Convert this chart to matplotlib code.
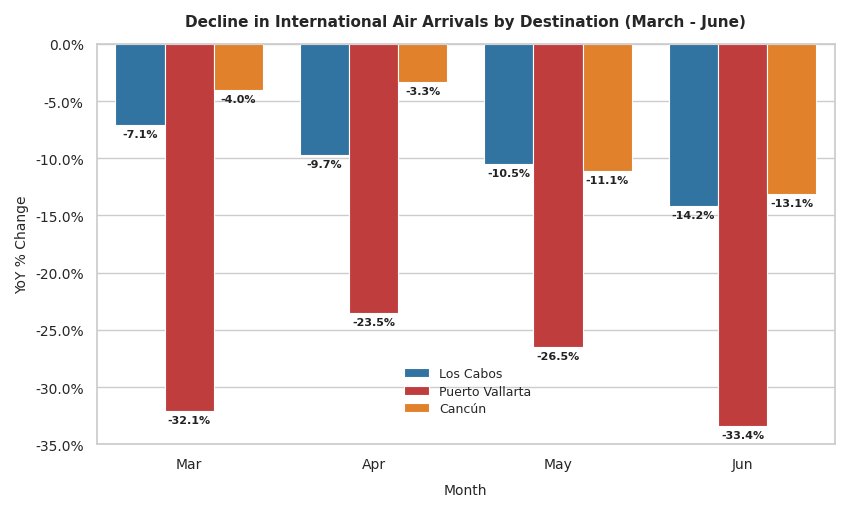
import matplotlib
matplotlib.use("Agg")
import matplotlib.pyplot as plt
import pandas as pd
import seaborn as sns
from matplotlib.ticker import FuncFormatter

months = ["Mar", "Apr", "May", "Jun"]
destinations = ["Los Cabos", "Puerto Vallarta", "Cancún"]
los_cabos = [-7.1, -9.7, -10.5, -14.2]
puerto_vallarta = [-32.1, -23.5, -26.5, -33.4]
cancun = [-4.0, -3.3, -11.1, -13.1]

rows = []
for dest, vals in zip(destinations, [los_cabos, puerto_vallarta, cancun]):
    for m, v in zip(months, vals):
        rows.append({"Month": m, "Destination": dest, "Change": v})
df = pd.DataFrame(rows)

sns.set_theme(style="whitegrid")
plt.rcParams["font.family"] = ["DejaVu Sans"]

fig = plt.figure(figsize=(8.5, 5.1), dpi=100)
ax = fig.add_axes([0.114, 0.127, 0.868, 0.785])

sns.barplot(data=df, x="Month", y="Change", hue="Destination", order=months,
            hue_order=destinations, palette=["#1f77b4", "#d62728", "#ff7f0e"],
            saturation=0.75, edgecolor="white", linewidth=0.8, ax=ax)

for container in ax.containers:
    for bar in container:
        h = bar.get_height()
        ax.annotate(f"{h:.1f}%", (bar.get_x() + bar.get_width() / 2, h),
                    xytext=(0, -3), textcoords="offset points",
                    ha="center", va="top", fontsize=8, fontweight="bold",
                    color="#222222")

ax.set_ylim(-35, 0)
ax.set_xlim(-0.5, 3.5)
ax.yaxis.set_major_formatter(FuncFormatter(lambda v, _: f"{v:.1f}%"))
ax.set_title("Decline in International Air Arrivals by Destination (March - June)",
             fontsize=11, fontweight="bold", pad=13)
ax.set_xlabel("Month", fontsize=10, labelpad=8)
ax.set_ylabel("YoY % Change", fontsize=10)
ax.tick_params(labelsize=10)
ax.legend(loc="lower center", bbox_to_anchor=(0.503, 0.045), frameon=False,
          fontsize=9, labelspacing=0.35)

fig.savefig("out.png", dpi=100)
